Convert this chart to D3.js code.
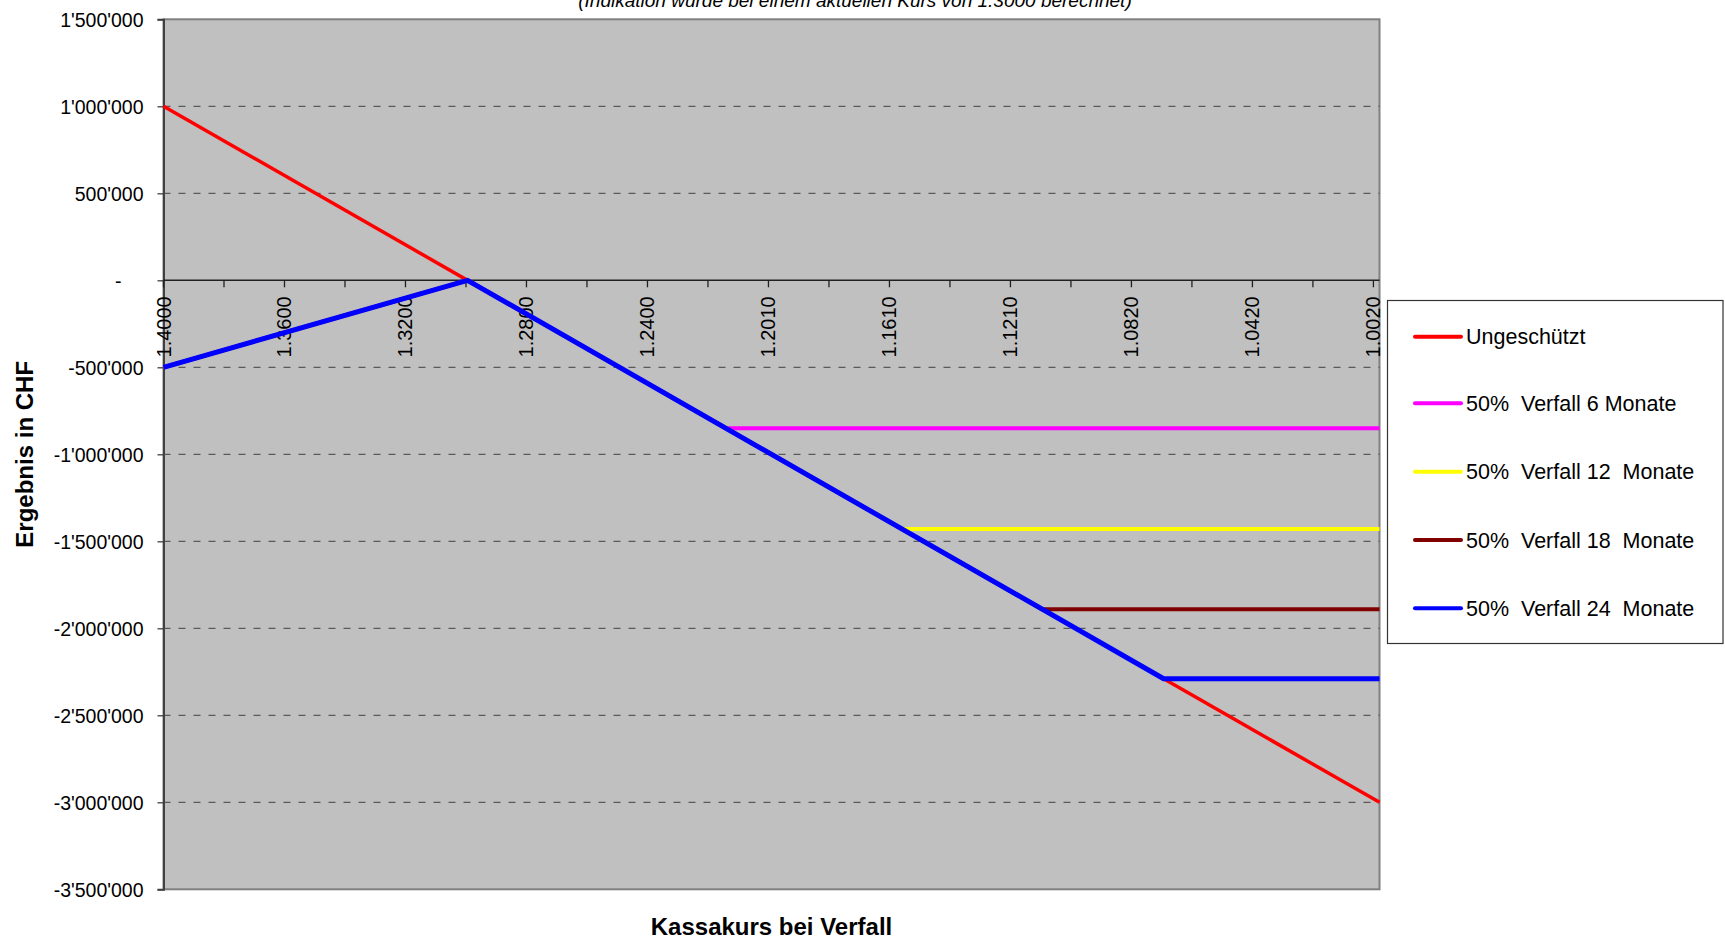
<!DOCTYPE html>
<html>
<head>
<meta charset="utf-8">
<script src="https://cdn.jsdelivr.net/npm/d3@7"></script>
<style>
  html, body { margin: 0; padding: 0; background: #fff; }
  svg { display: block; font-family: "Liberation Sans", Arial, sans-serif; }
</style>
</head>
<body>
<svg id="chart" width="1725" height="939"></svg>
<script>
// ---------- data ----------
const subtitle = "(Indikation wurde bei einem aktuellen Kurs von 1.3000 berechnet)";
const yTitle = "Ergebnis in CHF";
const xTitle = "Kassakurs bei Verfall";

// category values at the labelled ticks, and the labels shown
const tickRates  = [1.4000, 1.3602, 1.3204, 1.2806, 1.2408, 1.2010, 1.1612, 1.1214, 1.0816, 1.0418, 1.0020];
const tickLabels = ["1.4000","1.3600","1.3200","1.2800","1.2400","1.2010","1.1610","1.1210","1.0820","1.0420","1.0020"];
const yTicks = [1500000, 1000000, 500000, 0, -500000, -1000000, -1500000, -2000000, -2500000, -3000000, -3500000];

const seriesNames = ["Ungeschützt", "50%  Verfall 6 Monate", "50%  Verfall 12  Monate", "50%  Verfall 18  Monate", "50%  Verfall 24  Monate"];
const seriesColors = ["#FF0000", "#FF00FF", "#FFFF00", "#800000", "#0000FF"];

// breakpoints (spot rate at expiry, result in CHF)
const redX = [1.4000, 1.0000];
const redY = [1000000, -3000000];
const magX = [1.4000, 1.3000, 1.2150, 1.0000];
const magY = [-500000, 0, -850000, -850000];
const yelX = [1.4000, 1.3000, 1.1570, 1.0000];
const yelY = [-500000, 0, -1430000, -1430000];
const broX = [1.4000, 1.3000, 1.1110, 1.0000];
const broY = [-500000, 0, -1890000, -1890000];
const bluX = [1.4000, 1.3000, 1.0710, 1.0000];
const bluY = [-500000, 0, -2290000, -2290000];

// ---------- layout ----------
const svg = d3.select("#chart");
const L = 163.5, R = 1379.5, T = 19.3, B = 889.3;

const x = d3.scaleLinear().domain([1.4, 1.0]).range([L, R]);
const y = d3.scaleLinear().domain([-3500000, 1500000]).range([B, T]);

const fmt = v => v === 0 ? "-" : d3.format(",")(v).replace(/,/g, "'").replace(/\u2212/g, "-");

// plot background
svg.append("rect").attr("x", L).attr("y", T).attr("width", R - L).attr("height", B - T)
  .attr("fill", "#C0C0C0").attr("stroke", "#808080").attr("stroke-width", 2);

// gridlines
svg.append("g").selectAll("line")
  .data(yTicks.filter(v => v !== 0 && v !== 1500000 && v !== -3500000))
  .join("line")
  .attr("x1", L).attr("x2", R)
  .attr("y1", d => y(d)).attr("y2", d => y(d))
  .attr("stroke", "#404040").attr("stroke-width", 1).attr("stroke-dasharray", "7,8");

// y axis
const yAxis = d3.axisLeft(y).tickValues(yTicks).tickFormat(fmt).tickSize(6).tickPadding(14);
const gy = svg.append("g").attr("transform", `translate(${L},0)`).call(yAxis);
gy.select(".domain").attr("stroke", "#404040").attr("stroke-width", 2);
gy.selectAll(".tick line").attr("stroke", "#404040").attr("stroke-width", 1.3);
gy.selectAll(".tick text").attr("font-size", 19.5).attr("fill", "#000")
  .attr("font-family", "'Liberation Sans', Arial, sans-serif")
  .attr("dy", "0.35em");
gy.selectAll(".tick").filter(d => d === 0).select("text").attr("x", -42);

// x axis at zero
const minorRates = d3.pairs(tickRates).map(([a, b]) => (a + b) / 2);
const gx = svg.append("g").attr("transform", `translate(0,${y(0)})`);
gx.append("line").attr("x1", L).attr("x2", R).attr("y1", 0).attr("y2", 0)
  .attr("stroke", "#202020").attr("stroke-width", 1.5);
gx.selectAll("line.tk").data(tickRates.concat(minorRates)).join("line").attr("class", "tk")
  .attr("x1", d => x(d)).attr("x2", d => x(d)).attr("y1", 0).attr("y2", 7)
  .attr("stroke", "#202020").attr("stroke-width", 1.3);
gx.selectAll("text").data(tickRates).join("text")
  .attr("transform", d => `translate(${x(d)},16) rotate(-90)`)
  .attr("text-anchor", "end").attr("dy", "0.35em")
  .attr("font-size", 20).attr("fill", "#000")
  .text((d, i) => tickLabels[i]);

// series
const line = d3.line().x(d => x(d[0])).y(d => y(d[1]));
const seriesData = [
  d3.zip(redX, redY), d3.zip(magX, magY), d3.zip(yelX, yelY), d3.zip(broX, broY), d3.zip(bluX, bluY)
];
const widths = [3.5, 4, 4, 4, 5];
svg.append("g").selectAll("path").data(seriesData).join("path")
  .attr("d", line).attr("fill", "none")
  .attr("stroke", (d, i) => seriesColors[i]).attr("stroke-width", (d, i) => widths[i])
  .attr("stroke-linejoin", "round");

// titles
svg.append("text").attr("x", 855).attr("y", 7).attr("text-anchor", "middle")
  .attr("font-size", 19).attr("font-style", "italic").text(subtitle);
svg.append("text").attr("x", (L + R) / 2).attr("y", 935).attr("text-anchor", "middle")
  .attr("font-size", 24).attr("font-weight", "bold").text(xTitle);
svg.append("text").attr("transform", `translate(33,${(T + B) / 2}) rotate(-90)`)
  .attr("text-anchor", "middle").attr("font-size", 24).attr("font-weight", "bold").text(yTitle);

// legend
const lg = svg.append("g");
lg.append("rect").attr("x", 1387.5).attr("y", 300.5).attr("width", 335.5).attr("height", 343)
  .attr("fill", "#fff").attr("stroke", "#333").attr("stroke-width", 1.2);
const rowY = [336.7, 403.3, 471.7, 540, 608.3];
const items = lg.selectAll("g").data(seriesNames).join("g")
  .attr("transform", (d, i) => `translate(0,${rowY[i]})`);
items.append("line").attr("x1", 1415).attr("x2", 1461).attr("y1", 0).attr("y2", 0)
  .attr("stroke", (d, i) => seriesColors[i]).attr("stroke-width", 4).attr("stroke-linecap", "round");
items.append("text").attr("x", 1466).attr("dy", "0.35em").attr("font-size", 21.5)
  .style("white-space", "pre").text(d => d);
</script>
</body>
</html>
